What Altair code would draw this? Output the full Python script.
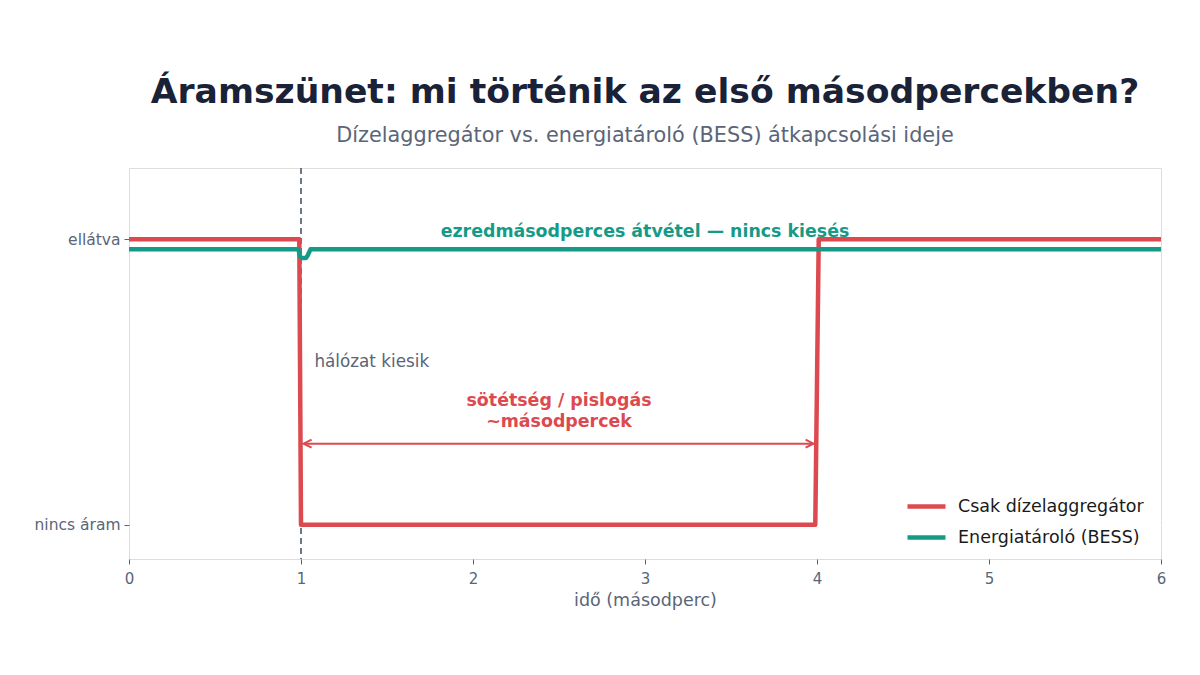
import altair as alt
import pandas as pd

# ---- data ----
diesel_t = [0, 0.99, 1.0, 3.99, 4.01, 6]
diesel_v = [1, 1, 0, 0, 1, 1]
bess_t = [0, 0.985, 0.995, 1.005, 1.03, 1.04, 1.055, 6]
bess_v = [0.965, 0.965, 0.94, 0.935, 0.935, 0.945, 0.965, 0.965]
series_names = ["Csak dízelaggregátor", "Energiatároló (BESS)"]
series_colors = ["#dc4a50", "#169a88"]

outage_t = 1
arrow_from, arrow_to, arrow_y = 1.015, 3.98, 0.284

FONT = "DejaVu Sans"
GRAY = "#5a6578"

rows = []
for i, (t, v) in enumerate(zip(diesel_t, diesel_v)):
    rows.append({"t": t, "v": v, "s": series_names[0], "o": i})
for i, (t, v) in enumerate(zip(bess_t, bess_v)):
    rows.append({"t": t, "v": v, "s": series_names[1], "o": i})
df = pd.DataFrame(rows)

xscale = alt.Scale(domain=[0, 6], nice=False, zero=False)
yscale = alt.Scale(domain=[-0.12, 1.25], nice=False, zero=False)

base = alt.Chart(df)

vline = alt.Chart(pd.DataFrame({"t": [outage_t]})).mark_rule(
    color="#4a5568", strokeDash=[6, 4], strokeWidth=1.6
).encode(x=alt.X("t:Q", scale=xscale))

lines = base.mark_line(strokeWidth=4.5, strokeCap="butt", strokeJoin="round").encode(
    x=alt.X("t:Q", scale=xscale,
            axis=alt.Axis(values=[0, 1, 2, 3, 4, 5, 6], format="d", title="idő (másodperc)",
                          grid=False, domain=False, tickColor=GRAY, tickSize=5,
                          labelFlush=False,
                          labelColor=GRAY, labelFontSize=15, labelFont=FONT, labelPadding=7,
                          titleColor=GRAY, titleFontSize=17.5, titleFont=FONT,
                          titleFontWeight="normal", titlePadding=5)),
    y=alt.Y("v:Q", scale=yscale,
            axis=alt.Axis(values=[0, 1], title=None, domain=False,
                          labelExpr="datum.value == 1 ? 'ellátva' : 'nincs áram'",
                          grid=True, gridColor="#ffffff", gridWidth=1.2,
                          tickColor=GRAY, tickSize=5, labelColor=GRAY, labelFontSize=15.5,
                          labelFont=FONT, labelPadding=4)),
    color=alt.Color("s:N", scale=alt.Scale(domain=series_names, range=series_colors),
                    legend=alt.Legend(title=None, orient="none", legendX=776, legendY=317,
                                      symbolType="stroke", symbolSize=1444,
                                      symbolStrokeWidth=4.5, labelFontSize=17.5,
                                      labelFont=FONT, labelColor="#1a1a1a", labelLimit=0,
                                      rowPadding=-7, labelOffset=10)),
    order="o:Q",
    detail="s:N",
)

teal_txt = alt.Chart(pd.DataFrame({"t": [3.0], "v": [1.025],
                                   "txt": ["ezredmásodperces átvétel — nincs kiesés"]})).mark_text(
    font=FONT, fontSize=17.4, fontWeight="bold", color=series_colors[1], baseline="middle"
).encode(x=alt.X("t:Q", scale=xscale), y=alt.Y("v:Q", scale=yscale), text="txt:N")

red_txt = alt.Chart(pd.DataFrame({"t": [2.5, 2.5], "v": [0.435, 0.361],
                                  "txt": ["sötétség / pislogás", "~másodpercek"]})).mark_text(
    font=FONT, fontSize=17.4, fontWeight="bold", color=series_colors[0], baseline="middle"
).encode(x=alt.X("t:Q", scale=xscale), y=alt.Y("v:Q", scale=yscale), text="txt:N")

gray_txt = alt.Chart(pd.DataFrame({"t": [1.078], "v": [0.572], "txt": ["hálózat kiesik"]})).mark_text(
    font=FONT, fontSize=16.8, color=GRAY, align="left", baseline="middle"
).encode(x=alt.X("t:Q", scale=xscale), y=alt.Y("v:Q", scale=yscale), text="txt:N")

arrow_df = pd.DataFrame({"t": [arrow_from], "t2": [arrow_to], "v": [arrow_y]})
arrow_line = alt.Chart(arrow_df).mark_rule(color=series_colors[0], strokeWidth=2).encode(
    x=alt.X("t:Q", scale=xscale), x2="t2:Q", y=alt.Y("v:Q", scale=yscale))

heads_df = pd.DataFrame({"t": [arrow_from, arrow_to], "v": [arrow_y, arrow_y], "side": ["l", "r"]})
head_l = alt.Chart(heads_df[heads_df.side == "l"]).mark_point(
    shape="M 1 -0.5 L 0 0 L 1 0.5", filled=False, color=series_colors[0], strokeWidth=2,
    size=256, opacity=1
).encode(x=alt.X("t:Q", scale=xscale), y=alt.Y("v:Q", scale=yscale))
head_r = alt.Chart(heads_df[heads_df.side == "r"]).mark_point(
    shape="M -1 -0.5 L 0 0 L -1 0.5", filled=False, color=series_colors[0], strokeWidth=2,
    size=256, opacity=1
).encode(x=alt.X("t:Q", scale=xscale), y=alt.Y("v:Q", scale=yscale))

chart = alt.layer(vline, lines, teal_txt, red_txt, gray_txt, arrow_line, head_l, head_r).properties(
    width=1032, height=391,
    autosize=alt.AutoSizeParams(type="none"),
    padding={"left": 121, "top": 160, "right": 31, "bottom": 108},
    title=alt.TitleParams(
        text="Áramszünet: mi történik az első másodpercekben?",
        subtitle="Dízelaggregátor vs. energiatároló (BESS) átkapcsolási ideje",
        font=FONT, fontSize=34.6, fontWeight="bold", color="#1a2238",
        subtitleFont=FONT, subtitleFontSize=20.8, subtitleColor=GRAY,
        anchor="middle", offset=20, subtitlePadding=16,
    ),
).configure_view(fill="#f2f5fb", stroke="#e4ecf6", strokeWidth=1).configure(background="#ffffff")

chart.save("out.html", embed_options={"renderer": "svg", "actions": False})
